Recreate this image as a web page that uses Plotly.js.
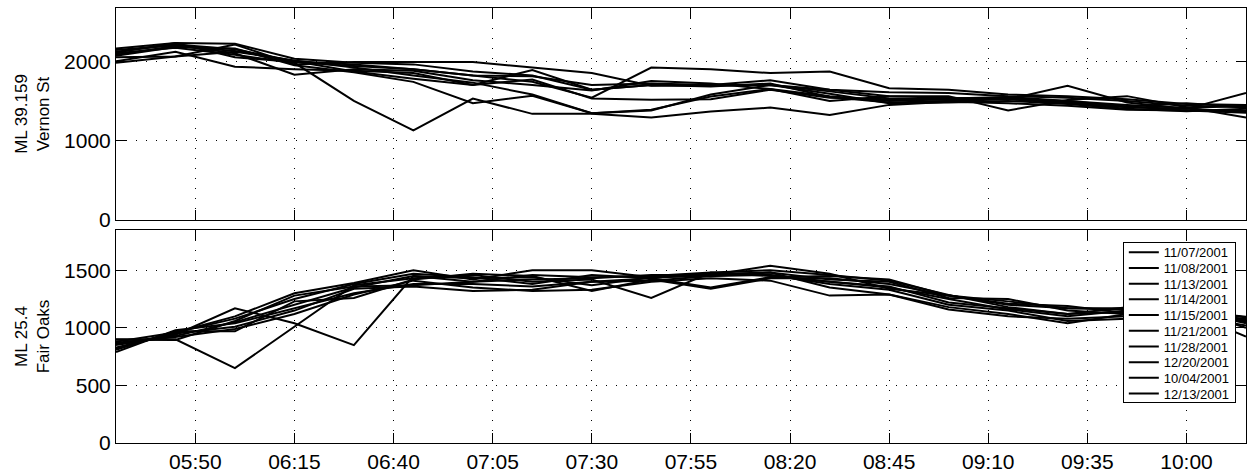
<!DOCTYPE html>
<html>
<head>
<meta charset="utf-8">
<script src="https://cdn.plot.ly/plotly-3.0.1.min.js"></script>
<style>html,body{margin:0;padding:0;background:#fff;}#chart{width:1247px;height:475px;}</style>
</head>
<body>
<div id="chart"></div>
<script>
const times = ["05:30","05:45","06:00","06:15","06:30","06:45","07:00","07:15","07:30","07:45",
               "08:00","08:15","08:30","08:45","09:00","09:15","09:30","09:45","10:00","10:15"];
const dates = ["11/07/2001","11/08/2001","11/13/2001","11/14/2001","11/15/2001",
               "11/21/2001","11/28/2001","12/20/2001","10/04/2001","12/13/2001"];
const topLabel = "ML 39.159<br>Vernon St";
const bottomLabel = "ML 25.4<br>Fair Oaks";

// ML 39.159 Vernon St
const vernon1  = [2160,2230,2220,2030,1980,1960,1870,1820,1640,1700,1690,1700,1640,1610,1600,1560,1540,1500,1440,1420];
const vernon2  = [2120,2210,2150,2000,1960,1900,1820,1740,1540,1920,1900,1850,1870,1660,1640,1580,1560,1520,1460,1450];
const vernon3  = [2050,2060,2210,1960,1990,1990,1990,1920,1850,1690,1700,1760,1640,1560,1540,1520,1690,1480,1400,1600];
const vernon4  = [2080,2190,2130,2000,1870,1780,1700,1770,1530,1515,1520,1640,1540,1520,1530,1550,1500,1430,1380,1380];
const vernon5  = [2000,2120,1930,1900,1880,1850,1700,1890,1640,1700,1680,1720,1550,1480,1500,1520,1470,1420,1400,1360];
const vernon6  = [2140,2200,2100,1830,1900,1880,1760,1700,1630,1750,1720,1650,1500,1560,1560,1380,1510,1560,1420,1290];
const vernon7  = [2100,2170,2080,1980,1500,1130,1530,1337,1337,1290,1366,1416,1324,1450,1490,1470,1440,1390,1380,1350];
const vernon8  = [1980,2060,2120,2010,1920,1820,1730,1580,1345,1380,1580,1700,1590,1470,1480,1500,1460,1400,1370,1400];
const vernon9  = [2070,2180,2160,1950,1860,1740,1470,1565,1345,1390,1555,1650,1560,1500,1520,1530,1500,1450,1410,1440];
const vernon10 = [2110,2230,2050,1990,1940,1900,1820,1810,1700,1720,1700,1700,1620,1530,1510,1530,1480,1430,1470,1420];

// ML 25.4 Fair Oaks
const fair1  = [880,960,1100,1300,1390,1500,1420,1500,1500,1440,1470,1480,1420,1400,1260,1250,1150,1120,1100,1050];
const fair2  = [860,940,1170,1040,850,1450,1400,1420,1430,1460,1460,1540,1470,1340,1280,1200,1170,1160,1120,1080];
const fair3  = [900,900,650,1010,1370,1430,1460,1400,1420,1260,1480,1450,1400,1350,1250,1160,1100,1150,1160,1000];
const fair4  = [820,960,1080,1250,1380,1470,1440,1380,1460,1430,1350,1440,1450,1420,1280,1210,1190,1130,1120,1060];
const fair5  = [850,930,1050,1200,1350,1450,1430,1440,1370,1440,1450,1460,1380,1330,1200,1150,1060,1080,1150,1097];
const fair6  = [790,980,1040,1170,1300,1380,1380,1360,1400,1410,1450,1480,1350,1290,1180,1120,1040,1120,1140,924];
const fair7  = [870,920,990,1120,1290,1410,1350,1320,1330,1400,1430,1410,1280,1290,1160,1100,1080,1100,1110,1020];
const fair8  = [830,950,1010,1150,1340,1360,1320,1330,1400,1430,1470,1460,1400,1360,1220,1170,1120,1140,1160,1040];
const fair9  = [810,970,970,1230,1260,1420,1470,1450,1320,1420,1340,1430,1430,1380,1280,1230,1170,1170,1130,1070];
const fair10 = [896,895,1060,1280,1360,1370,1400,1460,1440,1450,1480,1500,1460,1410,1285,1180,1120,1180,1170,1090];

const vernon = [vernon1,vernon2,vernon3,vernon4,vernon5,vernon6,vernon7,vernon8,vernon9,vernon10];
const fair = [fair1,fair2,fair3,fair4,fair5,fair6,fair7,fair8,fair9,fair10];

const day = "2001-01-01 ";
const xs = times.map(t => day + t);

const traces = [];
vernon.forEach((ys, i) => {
  traces.push({x: xs, y: ys, type: "scatter", mode: "lines", xaxis: "x", yaxis: "y",
    name: dates[i], showlegend: false, line: {color: "#000", width: 2}});
});
fair.forEach((ys, i) => {
  traces.push({x: xs, y: ys, type: "scatter", mode: "lines", xaxis: "x2", yaxis: "y2",
    name: dates[i], showlegend: true, line: {color: "#000", width: 2}});
});

const fontFam = "Liberation Sans, Arial, Helvetica, sans-serif";
const xCommon = {
  type: "date",
  range: [day + "05:30", day + "10:15"],
  tick0: day + "05:50",
  dtick: 25 * 60 * 1000,
  tickformat: "%H:%M",
  ticks: "inside", ticklen: 10, tickcolor: "#000", tickwidth: 1,
  showline: true, linecolor: "#000", linewidth: 1, mirror: "ticks",
  showgrid: true, gridcolor: "#000", gridwidth: 1, griddash: "1px,9px",
  zeroline: false,
  tickfont: {size: 21, color: "#000", family: fontFam}
};
const yCommon = {
  ticks: "inside", ticklen: 10, tickcolor: "#000", tickwidth: 1,
  showline: true, linecolor: "#000", linewidth: 1, mirror: "ticks",
  showgrid: true, gridcolor: "#000", gridwidth: 1, griddash: "1px,9px",
  zeroline: false,
  tickfont: {size: 21, color: "#000", family: fontFam}
};

const layout = {
  width: 1247, height: 475,
  margin: {l: 116, r: 1, t: 8, b: 32},
  paper_bgcolor: "#fff", plot_bgcolor: "#fff",
  font: {family: fontFam, color: "#000"},
  xaxis: Object.assign({}, xCommon, {anchor: "y", showticklabels: false, matches: "x2"}),
  xaxis2: Object.assign({}, xCommon, {anchor: "y2"}),
  yaxis: Object.assign({}, yCommon, {domain: [0.5126, 1], range: [0, 2670], tickvals: [0, 1000, 2000],
    title: {text: topLabel, font: {size: 17, color: "#000", family: fontFam}, standoff: 10}}),
  yaxis2: Object.assign({}, yCommon, {domain: [0, 0.4897], range: [0, 1850], tickvals: [0, 500, 1000, 1500],
    title: {text: bottomLabel, font: {size: 17, color: "#000", family: fontFam}, standoff: 10}}),
  showlegend: true,
  legend: {
    x: 0.991, xanchor: "right", y: 0.4615, yanchor: "top",
    bgcolor: "#fff", bordercolor: "#000", borderwidth: 1,
    font: {size: 13, color: "#000", family: fontFam},
    tracegroupgap: 0, itemwidth: 30
  }
};

Plotly.newPlot("chart", traces, layout, {displayModeBar: false, staticPlot: true}).then(gd => {
  // tighten legend row spacing to match the compact reference legend
  const leg = gd.querySelector(".legend");
  if (!leg) return;
  const items = leg.querySelectorAll(".traces");
  const step = 15.7, first = 10;
  let lastY = first;
  items.forEach((el, i) => {
    const t = el.getAttribute("transform") || "";
    const m = t.match(/translate\(\s*([-\d.]+)[ ,]+([-\d.]+)\s*\)/);
    const xPos = m ? parseFloat(m[1]) : 0;
    lastY = first + i * step;
    el.setAttribute("transform", "translate(" + xPos + "," + lastY + ")");
  });
  const bg = leg.querySelector("rect.bg");
  if (bg) bg.setAttribute("height", lastY + 8);
});
</script>
</body>
</html>
